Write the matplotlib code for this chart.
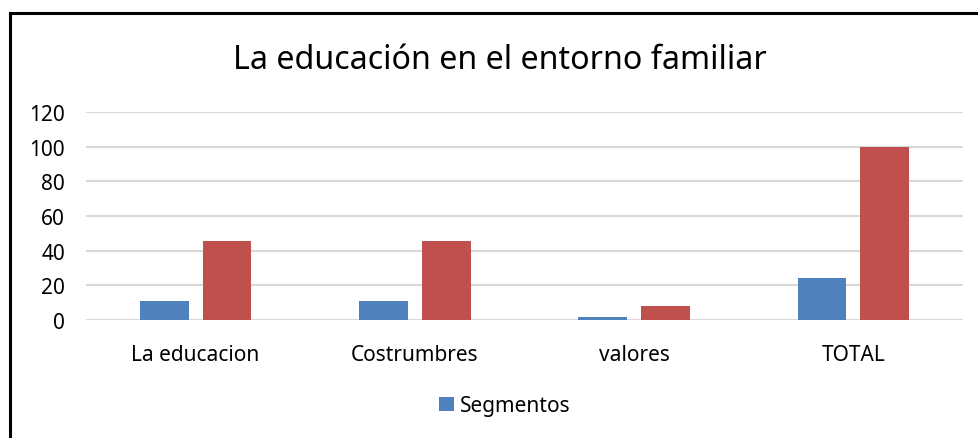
import matplotlib.pyplot as plt
import numpy as np
from matplotlib.lines import Line2D

categories = ['La educacion', 'Costrumbres', 'valores', 'TOTAL']
segmentos = [11, 11, 2, 24]
porcentaje = [45.83, 45.83, 8.33, 100]
yticks = [0, 20, 40, 60, 80, 100, 120]

plt.rcParams['font.family'] = ['Noto Sans', 'DejaVu Sans']

fig = plt.figure(figsize=(9.79, 4.39), dpi=100)
ax = fig.add_axes([0.0878, 0.2688, 0.8959, 0.4738])

x = np.arange(len(categories))
ax.bar(x - 0.143, segmentos, 0.222, color='#4f81bd', label='Segmentos', zorder=3)
ax.bar(x + 0.143, porcentaje, 0.222, color='#c0504d', zorder=3)

ax.set_xlim(-0.5, len(categories) - 0.5)
ax.set_ylim(0, 120)
ax.set_yticks(yticks)
ax.set_xticks(x)
ax.set_xticklabels(categories)
ax.tick_params(axis='both', length=0, labelsize=15, colors='black')
ax.tick_params(axis='y', pad=15)
ax.tick_params(axis='x', pad=17)
ax.grid(axis='y', color='#d9d9d9', linewidth=1.5, zorder=0)
for s in ax.spines.values():
    s.set_visible(False)

fig.text(0.511, 0.862, 'La educación en el entorno familiar', ha='center', va='center', fontsize=23.2)

fig.legend(loc='center', bbox_to_anchor=(0.516, 0.073), frameon=False, fontsize=15,
           handlelength=0.7, handleheight=0.7, handletextpad=0.3)

# outer chart border (cut off at right and bottom)
fig.add_artist(Line2D([0.010, 1.0], [0.967, 0.967], color='black', linewidth=2.2, transform=fig.transFigure))
fig.add_artist(Line2D([0.010, 0.010], [0.0, 0.967], color='black', linewidth=2.2, transform=fig.transFigure))

plt.savefig('out.png', dpi=100)
